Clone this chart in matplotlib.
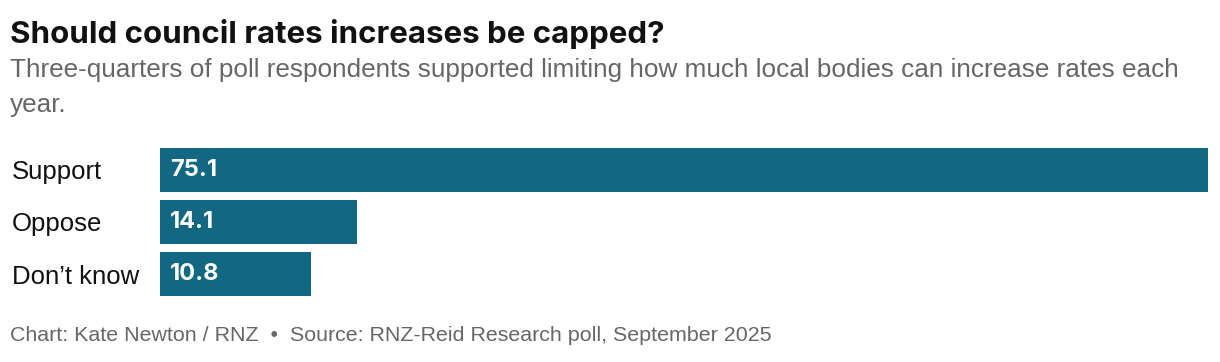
"""
Council rates cap poll - horizontal bar chart.
Saves out.png.
"""

import matplotlib

matplotlib.use("Agg")
import matplotlib.pyplot as plt


CATEGORIES = ["Support", "Oppose", "Don\u2019t know"]
VALUES = [75.1, 14.1, 10.8]

BAR_COLOR = "#126782"
GREY = "#666666"
BODY_FONT = "Liberation Sans"

W, H = 1220, 362
DPI = 100


def px(x, y):
    """Pixel coords (from top-left) to figure fraction."""
    return x / W, 1 - y / H


fig = plt.figure(figsize=(W / DPI, H / DPI), dpi=DPI)
fig.patch.set_facecolor("white")

# axes spans bar area: left 160 -> right 1208, top 148 -> bottom 296
left, top = px(160, 148)
right, bottom = px(1208, 296)
ax = fig.add_axes([left, bottom, right - left, top - bottom])

y = list(range(len(CATEGORIES)))
bar_h = 44 / 52

ax.barh(y, VALUES, height=bar_h, color=BAR_COLOR)

ax.set_xlim(0, max(VALUES))
ax.set_ylim(len(CATEGORIES) - 1 + bar_h / 2, -bar_h / 2)

for yi, v in zip(y, VALUES):
    ax.annotate(
        f"{v:.1f}",
        xy=(0, yi),
        xytext=(7, 0),
        textcoords="offset points",
        ha="left",
        va="center",
        color="white",
        fontsize=17,
        fontweight="bold",
        family="Inter",
    )

ax.set_yticks(y)
ax.set_yticklabels(CATEGORIES, fontsize=18.5, family=BODY_FONT, color="#111111")
for lbl in ax.get_yticklabels():
    lbl.set_horizontalalignment("left")
ax.tick_params(axis="y", length=0, pad=(160 - 12) * 72 / DPI)
ax.set_xticks([])
for s in ax.spines.values():
    s.set_visible(False)

fig.text(
    *px(10, 43),
    "Should council rates increases be capped?",
    fontsize=22.5,
    fontweight="bold",
    family="Inter",
    color="#111111",
    va="baseline",
)
fig.text(
    *px(10, 77),
    "Three-quarters of poll respondents supported limiting how much local bodies can increase rates each",
    fontsize=18.8,
    family=BODY_FONT,
    color=GREY,
    va="baseline",
)
fig.text(
    *px(10, 112),
    "year.",
    fontsize=18.8,
    family=BODY_FONT,
    color=GREY,
    va="baseline",
)
fig.text(
    *px(10, 341),
    "Chart: Kate Newton / RNZ  \u2022  Source: RNZ-Reid Research poll, September 2025",
    fontsize=15.4,
    family=BODY_FONT,
    color=GREY,
    va="baseline",
)

fig.savefig("out.png", dpi=DPI)
